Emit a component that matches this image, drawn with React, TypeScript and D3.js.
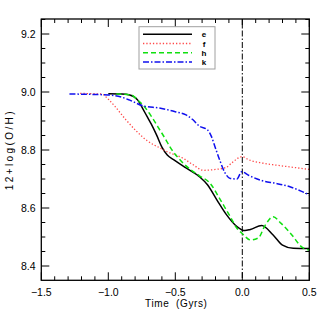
import * as d3 from 'd3';

// Time (Gyrs) vs 12+log(O/H)
const seriesE: [number, number][] = [
  [-1.0, 8.994], [-0.9, 8.993], [-0.84, 8.99], [-0.78, 8.972], [-0.74, 8.94], [-0.71, 8.915],
  [-0.68, 8.89], [-0.64, 8.852], [-0.6, 8.81], [-0.56, 8.783], [-0.51, 8.766], [-0.42, 8.738],
  [-0.32, 8.708], [-0.26, 8.68], [-0.19, 8.628], [-0.12, 8.578], [-0.04, 8.536], [0.02, 8.522],
  [0.06, 8.526], [0.145, 8.54], [0.23, 8.507], [0.3, 8.472], [0.38, 8.461], [0.5, 8.46],
];
const seriesF: [number, number][] = [
  [-1.21, 8.995], [-1.05, 8.993], [-1.0, 8.975], [-0.95, 8.95], [-0.87, 8.905], [-0.79, 8.865],
  [-0.71, 8.832], [-0.61, 8.806], [-0.56, 8.794], [-0.44, 8.771], [-0.37, 8.75], [-0.29, 8.73],
  [-0.2, 8.733], [-0.12, 8.74], [-0.08, 8.755], [0.0, 8.777], [0.05, 8.766], [0.15, 8.755],
  [0.25, 8.748], [0.35, 8.742], [0.5, 8.733],
];
const seriesH: [number, number][] = [
  [-0.94, 8.993], [-0.83, 8.99], [-0.78, 8.972], [-0.73, 8.949], [-0.68, 8.917], [-0.63, 8.88],
  [-0.57, 8.835], [-0.54, 8.811], [-0.44, 8.754], [-0.32, 8.711], [-0.24, 8.685], [-0.17, 8.633],
  [-0.09, 8.57], [-0.04, 8.53], [0.0, 8.512], [0.06, 8.49], [0.12, 8.497], [0.17, 8.54],
  [0.23, 8.57], [0.29, 8.547], [0.37, 8.507], [0.44, 8.467], [0.5, 8.455],
];
const seriesK: [number, number][] = [
  [-1.29, 8.993], [-1.0, 8.99], [-0.9, 8.982], [-0.84, 8.972], [-0.74, 8.952], [-0.61, 8.944],
  [-0.5, 8.932], [-0.42, 8.921], [-0.37, 8.905], [-0.32, 8.882], [-0.26, 8.87], [-0.23, 8.846],
  [-0.2, 8.806], [-0.166, 8.762], [-0.13, 8.722], [-0.09, 8.702], [-0.04, 8.70], [-0.005, 8.725],
  [0.05, 8.712], [0.15, 8.694], [0.25, 8.685], [0.35, 8.674], [0.5, 8.645],
];

const xTicks = [-1.5, -1.0, -0.5, 0.0, 0.5];
const yTicks = [8.4, 8.6, 8.8, 9.0, 9.2];

const series = [
  { name: 'e', data: seriesE, color: '#000000', dash: 'none', width: 1.5 },
  { name: 'f', data: seriesF, color: '#ff4848', dash: '1.3,2', width: 1.3 },
  { name: 'h', data: seriesH, color: '#10e010', dash: '5,3', width: 1.5 },
  { name: 'k', data: seriesK, color: '#1010ee', dash: '6,2,1.5,2', width: 1.5 },
];

const W = 319;
const H = 319;
const left = 41.3, right = 309.3, top = 19, bottom = 280.3;

export default function App() {
  const x = d3.scaleLinear().domain([-1.5, 0.5]).range([left, right]);
  const y = d3.scaleLinear().domain([8.4, 9.2]).range([266, 34]);
  const line = d3.line<[number, number]>()
    .x(d => x(d[0]))
    .y(d => y(d[1]))
    .curve(d3.curveMonotoneX);

  const xMinor = d3.range(-15, 6).map(i => i / 10);
  const yMin = y.invert(bottom), yMax = y.invert(top);
  const yMinor = d3.range(Math.ceil(yMin / 0.05), Math.floor(yMax / 0.05) + 1).map(i => i * 0.05);
  const isMajorX = (v: number) => xTicks.some(t => Math.abs(t - v) < 1e-6);
  const isMajorY = (v: number) => yTicks.some(t => Math.abs(t - v) < 1e-6);
  const fmt = (v: number) => d3.format('.1f')(v).replace('-', '\u2212');

  const font = "'Liberation Sans', Arial, sans-serif";

  return (
    <div style={{ position: 'fixed', left: 0, top: 0 }}>
      <svg width={W} height={H} style={{ display: 'block', background: '#fff' }} fontFamily={font}>
        <defs>
          <clipPath id="plot">
            <rect x={left} y={top} width={right - left} height={bottom - top} />
          </clipPath>
        </defs>

        {/* ticks on all four sides */}
        <g stroke="#000" strokeWidth={1}>
          {xMinor.map(v => {
            const len = isMajorX(v) ? 8 : 4;
            return (
              <g key={'x' + v}>
                <line x1={x(v)} x2={x(v)} y1={bottom} y2={bottom - len} />
                <line x1={x(v)} x2={x(v)} y1={top} y2={top + len} />
              </g>
            );
          })}
          {yMinor.map(v => {
            const len = isMajorY(v) ? 8 : 4;
            return (
              <g key={'y' + v}>
                <line x1={left} x2={left + len} y1={y(v)} y2={y(v)} />
                <line x1={right} x2={right - len} y1={y(v)} y2={y(v)} />
              </g>
            );
          })}
        </g>

        {xTicks.map(v => (
          <text key={'xl' + v} x={x(v)} y={296} textAnchor="middle" fontSize={10.5}>{fmt(v)}</text>
        ))}
        {yTicks.map(v => (
          <text key={'yl' + v} x={35.5} y={y(v) + 3.8} textAnchor="end" fontSize={10.5}>{fmt(v)}</text>
        ))}

        <text x={(left + right) / 2 + 1} y={306.5} textAnchor="middle" fontSize={10} letterSpacing={0.6}>
          {'Time\u00a0 (Gyrs)'}
        </text>
        <text transform={`translate(12.8,${(top + bottom) / 2}) rotate(-90)`} textAnchor="middle"
          fontSize={10} letterSpacing={2.4}>
          12+log(O/H)
        </text>

        <g clipPath="url(#plot)">
          <line x1={x(0)} x2={x(0)} y1={top} y2={bottom} stroke="#000" strokeWidth={1} strokeDasharray="6,2,1.5,2" />
          {series.map(s => (
            <path key={s.name} d={line(s.data) || ''} fill="none" stroke={s.color}
              strokeWidth={s.width} strokeDasharray={s.dash} />
          ))}
        </g>

        <rect x={left} y={top} width={right - left} height={bottom - top} fill="none" stroke="#000" strokeWidth={1.3} />

        {/* legend */}
        <g>
          <rect x={139} y={26.7} width={76} height={42.3} fill="#fff" stroke="#a0a0a0" strokeWidth={1} />
          {series.map((s, i) => {
            const ly = 34.3 + i * 9.2;
            return (
              <g key={'lg' + s.name}>
                <line x1={143} x2={192} y1={ly} y2={ly} stroke={s.color} strokeWidth={s.width} strokeDasharray={s.dash} />
                <text x={204} y={ly + 3} textAnchor="middle" fontSize={8} fontWeight="bold">{s.name}</text>
              </g>
            );
          })}
        </g>
      </svg>
    </div>
  );
}
